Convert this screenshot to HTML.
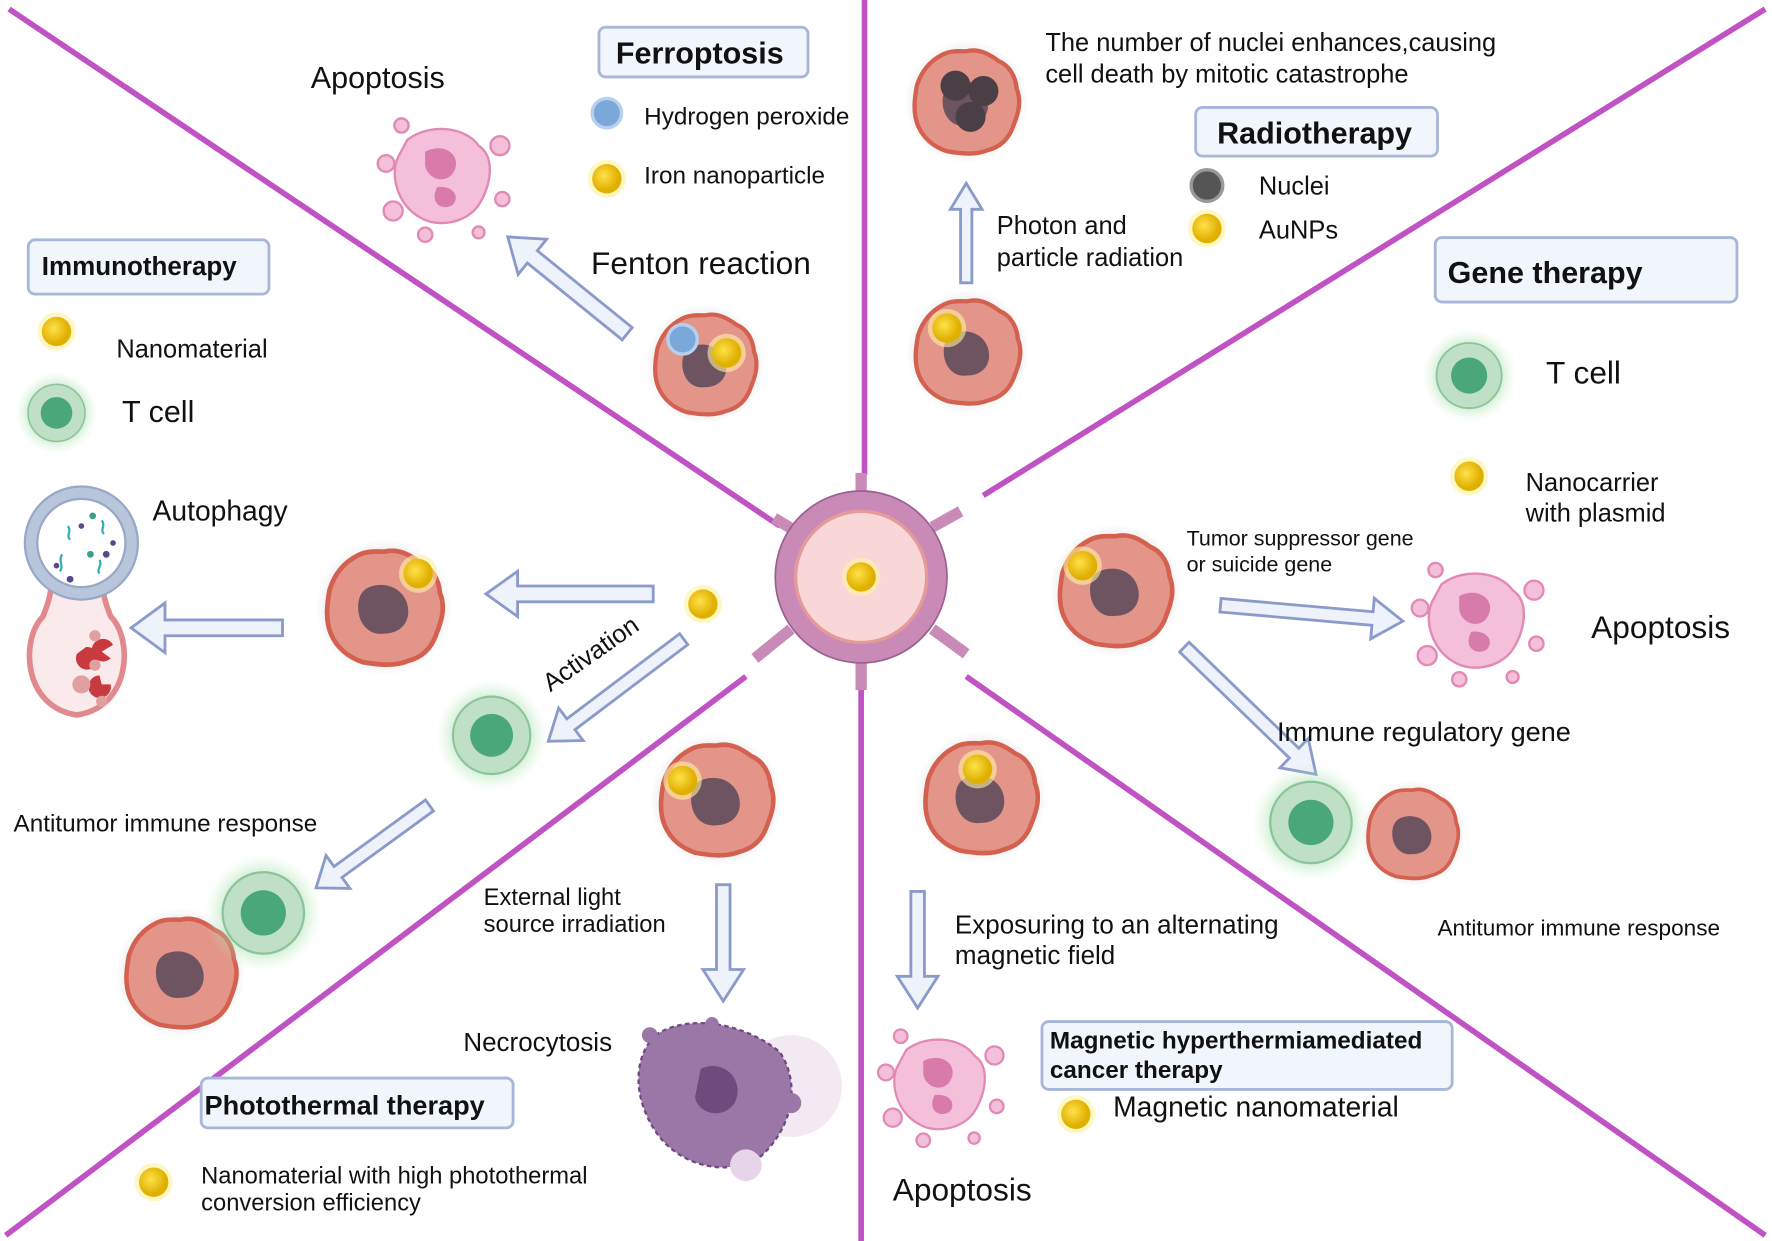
<!DOCTYPE html>
<html><head><meta charset="utf-8"><style>
html,body{margin:0;padding:0;background:#fff}
svg{display:block}
text{font-family:"Liberation Sans",sans-serif;fill:#111}
.b{font-weight:bold}
</style></head><body>
<svg width="1772" height="1241" viewBox="0 0 1568 1097" preserveAspectRatio="none" xmlns="http://www.w3.org/2000/svg">
<defs>
<radialGradient id="tg"><stop offset="0.5" stop-color="#7fcf90" stop-opacity="0.7"/><stop offset="1" stop-color="#c8f0c8" stop-opacity="0"/></radialGradient>
<radialGradient id="npg" cx="0.4" cy="0.4"><stop offset="0" stop-color="#ffe14a"/><stop offset="1" stop-color="#e0b000"/></radialGradient>
<radialGradient id="cg"><stop offset="0.75" stop-color="#d8d8d8" stop-opacity="0.8"/><stop offset="1" stop-color="#eee" stop-opacity="0"/></radialGradient>
<g id="cell">
<circle r="58" fill="url(#cg)"/>
<path d="M0,-47 C12,-50 22,-44 30,-38 C40,-34 46,-24 47,-12 C52,0 48,12 44,22 C40,34 32,42 20,45 C8,50 -6,48 -18,46 C-30,42 -40,34 -45,22 C-50,10 -48,-4 -46,-15 C-42,-28 -34,-38 -22,-44 C-14,-48 -6,-47 0,-47Z" fill="#e4958a" stroke="#d46050" stroke-width="4"/>
<path d="M-10,-18 C4,-22 18,-14 20,0 C22,14 12,22 0,22 C-14,24 -22,12 -22,0 C-22,-10 -18,-16 -10,-18Z" fill="#6e5460"/>
</g>
<g id="np"><circle r="17" fill="#fff3a0" opacity="0.6"/><circle r="13" fill="url(#npg)"/></g>
<g id="tc"><circle r="52" fill="url(#tg)"/><circle r="36" fill="#bfe0c5" stroke="#8cc49a" stroke-width="2"/><circle r="20" fill="#4aa878"/></g>
<g id="apo" fill="#f4bfd8" stroke="#e08ab5" stroke-width="2">
<path d="M-30,-30 C-10,-45 20,-40 30,-25 C45,-15 40,10 30,25 C20,40 -5,45 -20,35 C-38,25 -45,0 -38,-15Z"/>
<circle cx="-48" cy="-10" r="7"/><circle cx="48" cy="-25" r="8"/><circle cx="50" cy="20" r="6"/><circle cx="-42" cy="30" r="8"/><circle cx="-15" cy="50" r="6"/><circle cx="30" cy="48" r="5"/><circle cx="-35" cy="-42" r="6"/>
<path d="M-15,-20 C0,-28 15,-18 10,-5 C5,8 -12,5 -15,-8Z" fill="#d87aaa" stroke="none"/>
<path d="M-5,10 C8,8 15,18 8,25 C0,30 -12,24 -5,10Z" fill="#d87aaa" stroke="none"/>
</g>
</defs>

<!-- divider lines -->
<g stroke="#c052c4" stroke-width="5" fill="none">
<line x1="8" y1="8" x2="690" y2="465"/>
<line x1="765" y1="0" x2="765" y2="420"/>
<line x1="1562" y1="8" x2="870" y2="438"/>
<line x1="5" y1="1092" x2="660" y2="598"/>
<line x1="762" y1="605" x2="762" y2="1097"/>
<line x1="855" y1="598" x2="1562" y2="1092"/>
</g>

<!-- center vessel -->
<g stroke="#c98ab8" stroke-width="10" fill="none">
<line x1="705" y1="470" x2="685" y2="458"/><line x1="762" y1="440" x2="762" y2="418"/>
<line x1="825" y1="466" x2="850" y2="452"/><line x1="825" y1="556" x2="855" y2="578"/>
<line x1="762" y1="585" x2="762" y2="610"/><line x1="700" y1="556" x2="668" y2="582"/>
</g>
<circle cx="762" cy="510" r="76" fill="#c98ab8" stroke="#9a6090" stroke-width="1.5"/>
<circle cx="762" cy="510" r="58" fill="#f9d6d8" stroke="#e49a98" stroke-width="3"/>
<use href="#np" x="762" y="510"/>

<!-- arrows -->
<g fill="#eef2fb" stroke="#8a9bc9" stroke-width="2.5" stroke-linejoin="miter">
<polygon transform="translate(555,295) rotate(-141)" points="0,-7 108,-7 108,-20 136,0 108,20 108,7 0,7"/>
<polygon transform="translate(855,250) rotate(-90)" points="0,-5 65,-5 65,-14 88,0 65,14 65,5 0,5"/>
<polygon transform="translate(578,525) rotate(180)" points="0,-7 120,-7 120,-20 148,0 120,20 120,7 0,7"/>
<polygon transform="translate(250,555) rotate(180)" points="0,-7 104,-7 104,-22 134,0 104,22 104,7 0,7"/>
<polygon transform="translate(605,565) rotate(143)" points="0,-6 125,-6 125,-18 150,0 125,18 125,6 0,6"/>
<polygon transform="translate(380,712) rotate(144)" points="0,-6 100,-6 100,-18 124,0 100,18 100,6 0,6"/>
<polygon transform="translate(640,782) rotate(90)" points="0,-6 75,-6 75,-18 103,0 75,18 75,6 0,6"/>
<polygon transform="translate(812,788) rotate(90)" points="0,-6 75,-6 75,-18 103,0 75,18 75,6 0,6"/>
<polygon transform="translate(1080,535) rotate(5)" points="0,-6 135,-6 135,-18 162,0 135,18 135,6 0,6"/>
<polygon transform="translate(1048,572) rotate(44)" points="0,-6 135,-6 135,-18 162,0 135,18 135,6 0,6"/>
</g>

<!-- label boxes -->
<g fill="#f1f5fc" stroke="#a7b7d9" stroke-width="2.5">
<rect x="530" y="24" width="185" height="44" rx="6"/>
<rect x="1058" y="95" width="214" height="43" rx="6"/>
<rect x="25" y="212" width="213" height="48" rx="6"/>
<rect x="1270" y="210" width="267" height="57" rx="6"/>
<rect x="178" y="953" width="276" height="44" rx="6"/>
<rect x="922" y="903" width="363" height="60" rx="6"/>
</g>
<text x="545" y="56" font-size="27" class="b">Ferroptosis</text>
<text x="1077" y="127" font-size="27" class="b">Radiotherapy</text>
<text x="37" y="243" font-size="23" class="b">Immunotherapy</text>
<text x="1281" y="250" font-size="27" class="b">Gene therapy</text>
<text x="181" y="985" font-size="24" class="b">Photothermal therapy</text>
<text x="929" y="927" font-size="21.5" class="b">Magnetic hyperthermiamediated</text>
<text x="929" y="953" font-size="21.5" class="b">cancer therapy</text>

<!-- Ferroptosis -->
<text x="275" y="78" font-size="27">Apoptosis</text>
<use href="#apo" transform="translate(392,155) scale(1.05)"/>
<circle cx="537" cy="100" r="13" fill="#7aa8d8" stroke="#b8d0ee" stroke-width="3"/>
<text x="570" y="110" font-size="21.5">Hydrogen peroxide</text>
<use href="#np" x="537" y="158"/>
<text x="570" y="162" font-size="21.5">Iron nanoparticle</text>
<text x="523" y="242" font-size="28">Fenton reaction</text>
<use href="#cell" transform="translate(624,322) scale(0.92)"/>
<circle cx="604" cy="300" r="13" fill="#7aa8d8" stroke="#b8d0ee" stroke-width="3"/>
<use href="#np" x="643" y="312"/>

<!-- Radiotherapy -->
<g transform="translate(855,90) scale(0.95)">
<use href="#cell"/>
<circle cx="-10" cy="-15" r="14" fill="#4a3f45"/><circle cx="16" cy="-10" r="14" fill="#4a3f45"/><circle cx="4" cy="14" r="14" fill="#4a3f45"/>
</g>
<text x="925" y="45" font-size="22.5">The number of nuclei enhances,causing</text>
<text x="925" y="73" font-size="22.5">cell death by mitotic catastrophe</text>
<circle cx="1068" cy="164" r="14" fill="#555" stroke="#999" stroke-width="3"/>
<text x="1114" y="172" font-size="22.5">Nuclei</text>
<use href="#np" x="1068" y="202"/>
<text x="1114" y="211" font-size="22.5">AuNPs</text>
<text x="882" y="207" font-size="22.5">Photon and</text>
<text x="882" y="235" font-size="22.5">particle radiation</text>
<use href="#cell" transform="translate(856,311) scale(0.95)"/>
<use href="#np" x="838" y="290"/>

<!-- Immunotherapy -->
<use href="#np" x="50" y="293"/>
<text x="103" y="316" font-size="22.5">Nanomaterial</text>
<use href="#tc" transform="translate(50,365) scale(0.7)"/>
<text x="108" y="373" font-size="27">T cell</text>
<text x="135" y="460" font-size="25">Autophagy</text>
<!-- autophagy organelle -->
<path d="M45,500 C48,520 42,535 38,545 C18,565 20,625 68,632 C116,625 118,565 98,545 C94,535 88,520 91,500Z" fill="#fbeaec" stroke="#e08a90" stroke-width="5"/>
<circle cx="72" cy="480" r="50" fill="#b8c6dc" stroke="#98a8c6" stroke-width="2"/>
<circle cx="72" cy="480" r="39" fill="#fff" stroke="#98a8c6" stroke-width="2"/>
<g fill="#5a4a8a"><circle cx="50" cy="500" r="2.5"/><circle cx="72" cy="465" r="2.5"/><circle cx="100" cy="480" r="2.5"/><circle cx="62" cy="512" r="3"/><circle cx="94" cy="490" r="3"/></g>
<g fill="#3aa090"><circle cx="80" cy="490" r="3"/><circle cx="82" cy="456" r="3"/></g>
<g stroke="#30b0b0" stroke-width="2" fill="none"><path d="M60,465 c4,5 -2,8 2,12"/><path d="M90,460 c4,5 -2,8 2,12"/><path d="M55,490 c-4,6 2,10 -2,15"/><path d="M88,495 c3,5 -3,8 0,12"/></g>
<g fill="#c83a40"><path d="M68,578 a10,10 0 1,0 8,-6 l-8,6Z"/><path d="M100,570 a10,10 0 1,0 -2,12 l-8,-6Z"/><path d="M98,605 a10,10 0 1,1 -10,-8 l2,8Z"/></g>
<g fill="#e0a0a0"><circle cx="84" cy="562" r="5"/><circle cx="84" cy="588" r="5"/><circle cx="72" cy="605" r="8"/><circle cx="90" cy="620" r="5"/></g>
<use href="#cell" transform="translate(340,537) scale(1.05)"/>
<use href="#np" x="370" y="507"/>
<use href="#np" x="622" y="534"/>
<text x="0" y="0" font-size="22.5" transform="translate(487,612) rotate(-35)">Activation</text>
<use href="#tc" transform="translate(435,650) scale(0.95)"/>
<text x="12" y="735" font-size="21.5">Antitumor immune response</text>
<use href="#cell" transform="translate(160,860)"/>
<use href="#tc" transform="translate(233,807)"/>

<!-- Photothermal -->
<use href="#cell" transform="translate(634,707) scale(1.02)"/>
<use href="#np" x="604" y="690"/>
<text x="428" y="800" font-size="21">External light</text>
<text x="428" y="824" font-size="21">source irradiation</text>
<text x="410" y="929" font-size="23">Necrocytosis</text>
<g>
<circle cx="700" cy="960" r="45" fill="#efe3ef" opacity="0.8"/>
<path d="M580,915 C610,895 660,905 690,930 C710,960 700,1000 670,1025 C640,1040 600,1030 580,1000 C560,970 560,935 580,915Z" fill="#9b77a8" stroke="#6e4a80" stroke-width="2" stroke-dasharray="4 3"/>
<path d="M620,945 C640,935 660,955 650,975 C640,990 618,985 615,970Z" fill="#6f4a7c"/>
<circle cx="700" cy="975" r="9" fill="#9b77a8"/><circle cx="575" cy="915" r="7" fill="#9b77a8"/><circle cx="630" cy="905" r="6" fill="#9b77a8"/>
<circle cx="660" cy="1030" r="14" fill="#e6d4e8"/>
</g>
<use href="#np" x="136" y="1045"/>
<text x="178" y="1046" font-size="21">Nanomaterial with high photothermal</text>
<text x="178" y="1070" font-size="21">conversion efficiency</text>

<!-- Magnetic -->
<use href="#cell" transform="translate(868,705) scale(1.02)"/>
<use href="#np" x="865" y="680"/>
<text x="845" y="825" font-size="23">Exposuring to an alternating</text>
<text x="845" y="852" font-size="23">magnetic field</text>
<use href="#apo" transform="translate(832,958) scale(1.0)"/>
<use href="#np" x="952" y="985"/>
<text x="985" y="987" font-size="25">Magnetic nanomaterial</text>
<text x="790" y="1061" font-size="28">Apoptosis</text>

<!-- Gene therapy -->
<use href="#tc" transform="translate(1300,332) scale(0.8)"/>
<text x="1368" y="339" font-size="28">T cell</text>
<use href="#np" x="1300" y="421"/>
<text x="1350" y="434" font-size="22.5">Nanocarrier</text>
<text x="1350" y="461" font-size="22.5">with plasmid</text>
<use href="#cell" transform="translate(987,522) scale(1.02)"/>
<use href="#np" x="958" y="500"/>
<text x="1050" y="482" font-size="19">Tumor suppressor gene</text>
<text x="1050" y="505" font-size="19">or suicide gene</text>
<use href="#apo" transform="translate(1307,548) scale(1.05)"/>
<text x="1408" y="564" font-size="28">Apoptosis</text>
<text x="1130" y="655" font-size="24">Immune regulatory gene</text>
<use href="#tc" transform="translate(1160,727)"/>
<use href="#cell" transform="translate(1250,737) scale(0.82)"/>
<text x="1272" y="827" font-size="20">Antitumor immune response</text>
</svg>
</body></html>
